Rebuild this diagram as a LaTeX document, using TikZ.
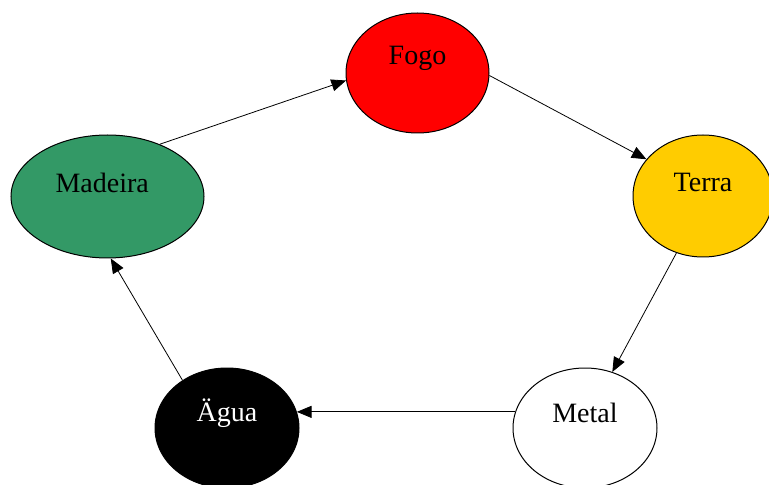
\documentclass[tikz,border=0pt]{standalone}
\usepackage{fontspec}
\setmainfont{Liberation Serif}
\usetikzlibrary{arrows.meta,shapes.geometric}
\definecolor{fogored}{HTML}{FF0000}
\definecolor{terragold}{HTML}{FFCC00}
\definecolor{madgreen}{HTML}{339966}
\begin{document}
\begin{tikzpicture}[x=0.75pt,y=-0.75pt,
  elem/.style={ellipse,draw=black,line width=0.75pt,inner sep=0pt},
  lab/.style={font=\fontsize{21}{25}\selectfont},
  conn/.style={line width=0.6pt,-{Triangle[length=11pt,width=9pt]}}]
\useasboundingbox (0,0) rectangle (769,485);
\clip (0,0) rectangle (769,485);
\fill[white] (0,0) rectangle (769,485);
\node[elem,fill=fogored,minimum width=107.25pt,minimum height=90pt,
  label={[lab,yshift=11pt]center:Fogo}] (fogo) at (417.5,73) {};
\node[elem,fill=terragold,minimum width=105pt,minimum height=91.5pt,
  label={[lab,yshift=10.5pt]center:Terra}] (terra) at (703,196) {};
\node[elem,fill=white,minimum width=108pt,minimum height=90pt,
  label={[lab,yshift=11pt]center:Metal}] (metal) at (585,428) {};
\node[elem,fill=black,minimum width=108pt,minimum height=90pt,
  label={[lab,text=white,yshift=11pt]center:Ägua}] (agua) at (227,428) {};
\node[elem,fill=madgreen,minimum width=144.75pt,minimum height=92.25pt,
  label={[lab,xshift=-4pt,yshift=10.5pt]center:Madeira}] (madeira) at (107.5,196.5) {};
\draw[conn] (madeira.45) -- (fogo.186);
\draw[conn] (fogo.358) -- (terra.147);
\draw[conn] (terra.245) -- (metal.64);
\draw[conn] (metal.167) -- (agua.13);
\draw[conn] (agua.133) -- (madeira.273);
\end{tikzpicture}
\end{document}
